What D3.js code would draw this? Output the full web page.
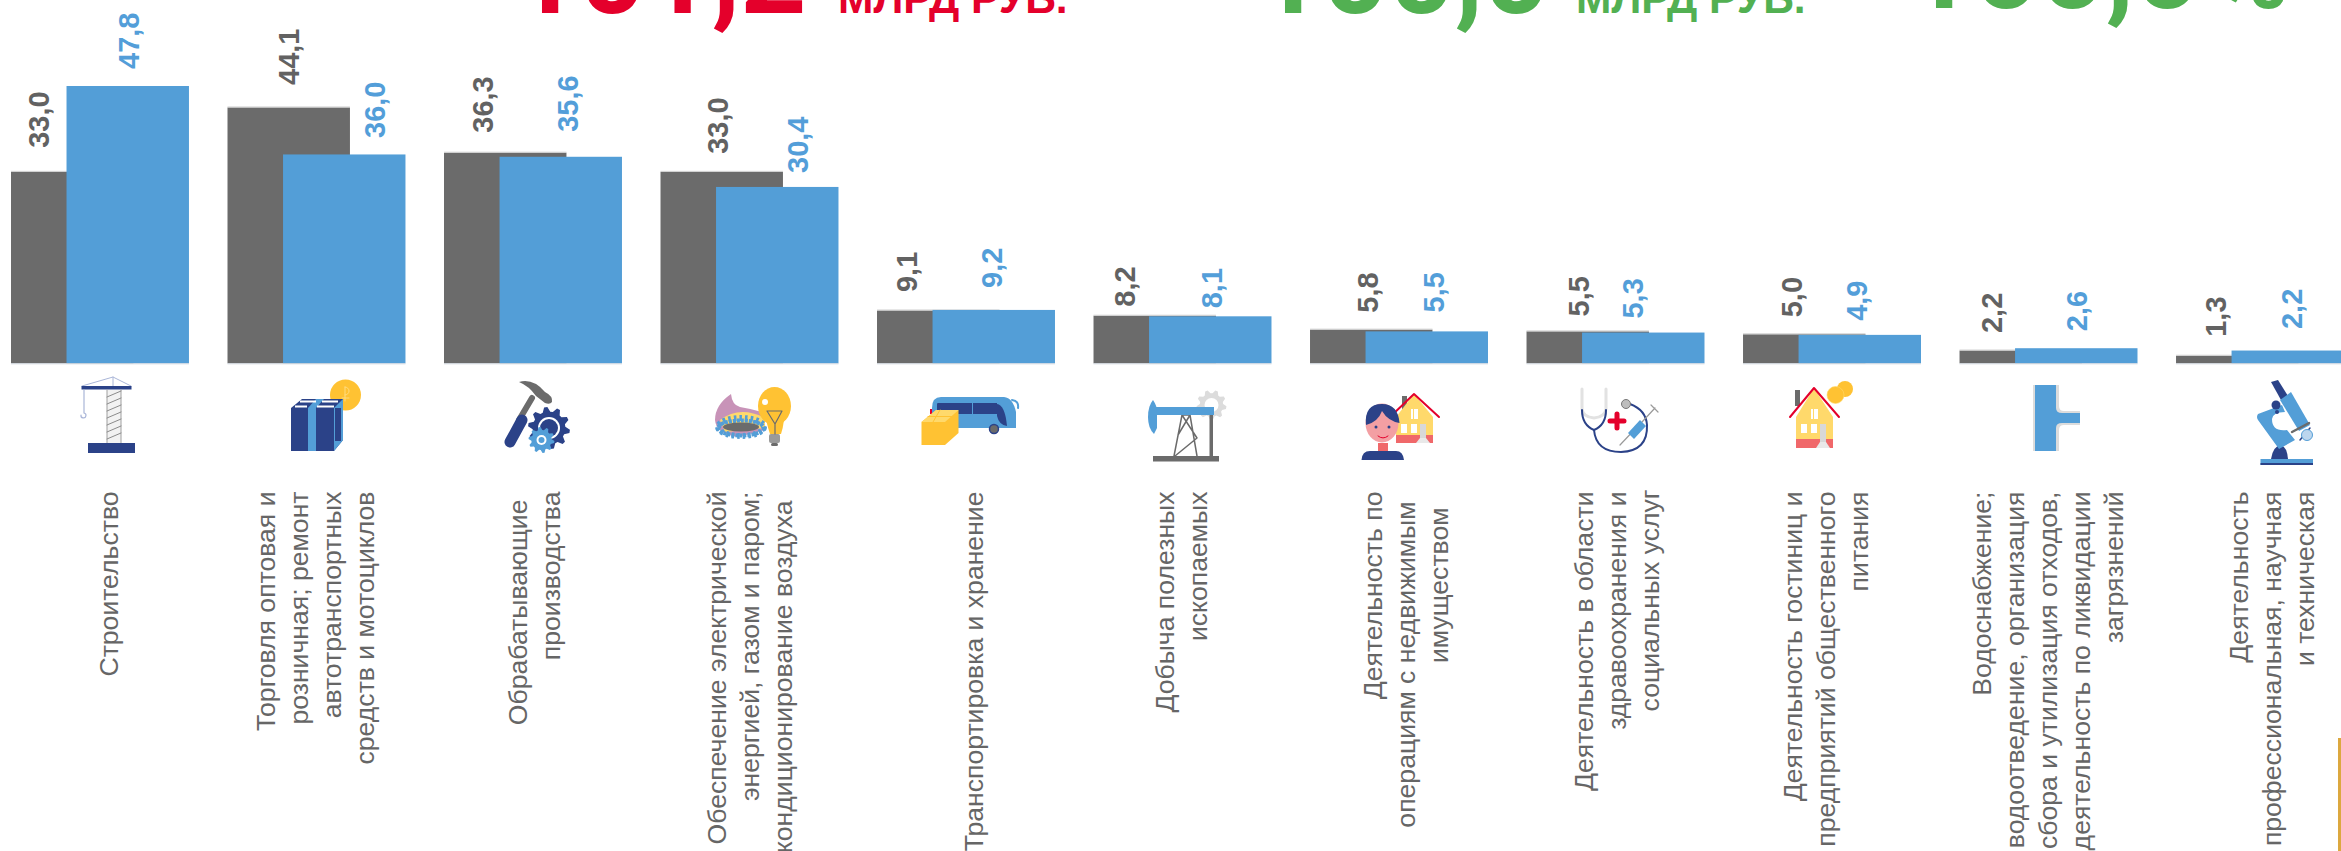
<!DOCTYPE html>
<html lang="ru"><head><meta charset="utf-8">
<style>html,body{margin:0;padding:0;background:#fff;overflow:hidden}svg{display:block;font-family:"Liberation Sans",Arial,sans-serif}</style>
<script src="https://cdnjs.cloudflare.com/ajax/libs/d3/7.8.5/d3.min.js"></script>
</head><body><svg id="c" width="2341" height="851"></svg>
<script>
// ---- data
const categories = [
 ["Строительство"],
 ["Торговля оптовая и","розничная; ремонт","автотранспортных","средств и мотоциклов"],
 ["Обрабатывающие","производства"],
 ["Обеспечение электрической","энергией, газом и паром;","кондиционирование воздуха"],
 ["Транспортировка и хранение"],
 ["Добыча полезных","ископаемых"],
 ["Деятельность по","операциям с недвижимым","имуществом"],
 ["Деятельность в области","здравоохранения и","социальных услуг"],
 ["Деятельность гостиниц и","предприятий общественного","питания"],
 ["Водоснабжение;","водоотведение, организация","сбора и утилизация отходов,","деятельность по ликвидации","загрязнений"],
 ["Деятельность","профессиональная, научная","и техническая"]
];
const previousValues = [33.0,44.1,36.3,33.0,9.1,8.2,5.8,5.5,5.0,2.2,1.3];
const currentValues  = [47.8,36.0,35.6,30.4,9.2,8.1,5.5,5.3,4.9,2.6,2.2];
const headlineRed = ["101,2","МЛРД РУБ."];
const headlineGreen = ["100,0","МЛРД РУБ."];
const headlinePercent = ["100,0","%"];

// ---- layout of hand-placed labels (separate from the values)
const prevLabelX   = [28,61.5,39,57.5,30,31.5,58,52.5,49,32.5,40];
const currLabelX   = [118,147.5,124,137.5,115,118.5,124,106.5,114,117.5,116];
const prevLabelGap = [24,22.5,20,18,18.5,9,17,15,17,17.5,19];
const currLabelGap = [17,16.5,25,14,22,8,19,14,14,17,21.5];
const catCenterX   = [97,87.5,90,88.5,96,87,95,89.5,82,88,95];
const catLineShift = [[0],[0,0,0,0],[8,0],[0,0,9],[0],[0,0],[0,10,16],[0,0,-2],[0,0,0],[0,0,0,0,0],[0,0,0]];

const C = {grey:"#6b6b6b", blue:"#539ed7", navy:"#2b4288", yellow:"#ffc233", lyellow:"#ffd96b",
           text:"#666666", greyLabel:"#626262", blueLabel:"#539ed9", red:"#e4002b", green:"#52b052", lgrey:"#dcdcdc", salmon:"#f0686a"};

const svg = d3.select("#c");
const idx = d3.range(categories.length);
const x = d3.scaleBand().domain(idx).range([11, 2354]).paddingInner(0.178).paddingOuter(0);
const y = d3.scaleLinear().domain([0, 47.8]).range([363.3, 86]);
const barW = x.bandwidth() * 0.688;
const seriesOffset = d3.scaleLinear().domain([0,1]).range([0, x.bandwidth() - barW]);
const fmt = v => d3.format(".1f")(v).replace(".", ",");

// ---- headline (cropped by the top edge)
function head(xx, yy, txt, fs, col, fam){
  svg.append("text").attr("x",xx).attr("y",yy).attr("font-size",fs).attr("font-weight",700)
   .attr("font-family",fam||null).attr("fill",col).text(txt);
}
const bigFont = "Roboto";
head(513,13,headlineRed[0],115.5,C.red,bigFont);
head(838,13,headlineRed[1],42.5,C.red);
head(1256,13,headlineGreen[0],115.5,C.green,bigFont);
head(1576,13,headlineGreen[1],42.5,C.green);
head(1907,8,headlinePercent[0],115.5,C.green,bigFont);
head(2212,8,headlinePercent[1],104,C.green,bigFont);

// ---- bars
const bars = svg.append("g");
bars.selectAll(null).data(previousValues).join("rect")
  .attr("x",(d,i)=>x(i)+seriesOffset(0)).attr("width",barW)
  .attr("y",d=>y(d)).attr("height",d=>y(0)-y(d)).attr("fill",C.grey);
// faint edge above the grey bars
bars.selectAll(null).data(previousValues).join("rect")
  .attr("x",(d,i)=>x(i)).attr("width",barW).attr("y",d=>y(d)-1).attr("height",1).attr("fill","#cfcfcf");
bars.selectAll(null).data(currentValues).join("rect")
  .attr("x",(d,i)=>x(i)+seriesOffset(1)).attr("width",barW)
  .attr("y",d=>y(d)).attr("height",d=>y(0)-y(d)).attr("fill",C.blue);
bars.selectAll(null).data(idx).join("rect")
  .attr("x",i=>x(i)).attr("width",x.bandwidth()).attr("y",y(0)).attr("height",1).attr("fill","#cfd6de");

// ---- value labels
function valueLabels(vals, dx, gap, col){
  svg.append("g").selectAll("text").data(vals).join("text")
    .attr("transform",(d,i)=>`translate(${x(i)+dx[i]},${y(d)-gap[i]}) rotate(-90)`)
    .attr("dy","0.36em").attr("font-size",29).attr("font-weight",700).attr("fill",col)
    .text(fmt);
}
valueLabels(previousValues,prevLabelX,prevLabelGap,C.greyLabel);
valueLabels(currentValues,currLabelX,currLabelGap,C.blueLabel);

// ---- category labels
const lineStep = 33, catTop = 491.5;
const cat = svg.append("g").selectAll("g").data(categories).join("g")
  .attr("transform",(d,i)=>`translate(${x(i)+catCenterX[i]},${catTop})`);
cat.each(function(lines,i){
  d3.select(this).selectAll("text").data(lines).join("text")
    .attr("transform",(d,j)=>`translate(${(j-(lines.length-1)/2)*lineStep},${catLineShift[i][j]}) rotate(-90)`)
    .attr("text-anchor","end").attr("dy","0.36em").attr("font-size",26.6).attr("fill",C.text).text(d=>d);
});

// ---- corner rule
svg.append("rect").attr("x",2338).attr("y",738).attr("width",3).attr("height",113).attr("fill","#dca83f");

// ---- pictograms
const ic = svg.append("g");
const R=(x0,y0,w,h,f,r)=>ic.append("rect").attr("x",x0).attr("y",y0).attr("width",w).attr("height",h).attr("fill",f).attr("rx",r||0);
const P=(d,f,s,sw)=>ic.append("path").attr("d",d).attr("fill",f||"none").attr("stroke",s||"none").attr("stroke-width",sw||0).attr("stroke-linecap","round").attr("stroke-linejoin","round");
const E=(cx,cy,rx,ry,f,s,sw)=>ic.append("ellipse").attr("cx",cx).attr("cy",cy).attr("rx",rx).attr("ry",ry).attr("fill",f).attr("stroke",s||"none").attr("stroke-width",sw||0);
function gear(cx,cy,r,teeth,f){
  const pts=[];const n=teeth*4;
  for(let k=0;k<n;k++){const a=(k+0.5)/n*2*Math.PI;const o=(k%4<2)?r:r*0.78;pts.push([cx+o*Math.cos(a),cy+o*Math.sin(a)]);}
  ic.append("path").attr("d",d3.line()(pts)+"Z").attr("fill",f);
}
// crane
P("M82 386L113 377L131 386M113 377V386","none","#aab6d8",1);
R(81.5,386,50,3.5,C.navy);
R(107,390,14,54,"#f2f2f2");
P("M107 390V444M121 390V444","none","#a0a0a0",1);
P("M107 397L121 391M107 404L121 398M107 411L121 405M107 418L121 412M107 425L121 419M107 432L121 426M107 439L121 433","none","#8c8c8c",1);
R(88,443,47,10,C.navy);
P("M84 390V413a2.5 2.5 0 1 1 -3 2","none","#aab6d8",1.2);
// parcel
E(345.5,395,15.5,15.5,C.yellow);
P("M345 387v14M345 387a4 4 0 0 1 0 8M342 398h7","none","#ffdc80",1);
P("M291 408L302 399H338L343 399V440L334 451H291Z",C.navy);
R(308,408,8,43,C.blue);
P("M302 399L297 408M316 399L308 408H316L324 399Z",C.blue);
P("M334 408L343 399V440L334 451Z",C.blue);
R(335,408,6,33,C.navy);
R(300,400.5,16,2,"#fff");R(322,400.5,16,2,"#fff");R(295,405.5,12,2,"#fff");R(317,405.5,17,2,"#fff");
// hammer + gears
P("M532 398L519 420","none",C.grey,6);
P("M510 442L522 420","none",C.navy,11);
P("M519 382Q533 378 545 392Q553 396 552 402Q550 405 545 403L536 396Q529 386 519 382Z",C.grey);
gear(549,428,21,10,C.navy);
E(549,428,11,11,"#fff");E(549,428,9,9,C.navy);
gear(541.5,440,13,10,C.blue);
E(541.5,440,5,5,"#fff");E(541.5,440,3,3,C.blue);
// gas + bulb
P("M715 420Q715 405 731 394Q732 405 740 407Q752 409 762 412L765 430L738 437Q716 434 715 420Z","#c893b8");
P("M720 420Q740 405 765 418L765 428L725 432Z",C.lyellow);
E(741,428,23,7.5,"none",C.blue,4).attr("stroke-dasharray","3 1");
E(741,427,23,9,"none",C.blue,6).attr("stroke-dasharray","2.5 3");
E(741,427,18,4.5,C.grey);
E(774.5,406,16.5,19,C.yellow);
P("M766 420Q768 428 770 434H781Q783 428 784 420Z",C.yellow);
R(769,434,11,9,"#9a9a9a",2);R(771,443,7,3,C.grey,1.5);
P("M767 411H782L775 424ZM775 424V434","none",C.grey,1.2);
E(765,402,3,3,"#fff");
// bus + box
P("M932 408Q932 397 941 397H1004Q1013 398 1016 412V428H932Z",C.blue);
R(937,403,27,11,C.navy,1);R(962,403,10,11,C.navy);R(973,403,24,11,C.navy);
P("M997 404Q1005 405 1007 426Q999 425 997 416Z",C.navy);
P("M1012 400Q1019 401 1018 408","none",C.blue,2);
E(994,429,4.5,4.5,C.grey,C.navy,1.5);
R(930,409,2,5,C.red);
P("M921.5 422L936 410H958.5V433L945 445H921.5Z",C.yellow);
P("M921.5 422L936 410H958.5L945 422Z",C.lyellow);
P("M928 416.5H952M940 410L933 422","none",C.yellow,1);
// oil pump
gear(1211.5,405,15,9,C.lgrey);
E(1211.5,405,7,7,"#fff");
P("M1174 456L1182 415L1190 415L1197 456M1182 415L1197 438L1175 456M1190 415L1178 435","none",C.grey,1.5);
R(1152,407,62,8,C.blue);
P("M1148 417Q1148 406 1153 400Q1157 406 1157 411V428L1154 434Q1148 428 1148 417Z",C.blue);
R(1209.5,415,3.5,42,C.grey);
R(1153,456,66,5.5,C.grey);
// person + house
function house(cx,apex,eave,base,strip,chim){
  R(chim,apex+2,5,16,C.grey);
  P(`M${cx-18} ${eave}L${cx} ${apex}L${cx+19} ${eave}V${base}H${cx-18}Z`,C.lyellow);
  R(cx-18,strip,37,base-strip,C.salmon);
  P(`M${cx-24} ${eave}L${cx} ${apex}L${cx+25} ${eave}`,"none",C.red,2);
  R(cx-3,eave-8,7,10,"#fff");R(cx-1,eave-8,1,10,C.lyellow);
  R(cx-13,eave+7,6,9,"#fff");R(cx-3,eave+7,6,9,"#fff");
  R(cx+6,eave+7,6,strip-eave,"#d8d8d8");
  P(`M${cx+2} ${base}L${cx+6} ${strip+3}H${cx+12}L${cx+16} ${base}Z`,"#e9e9e9");
}
house(1414,394,417,443,435,1402);
E(1382,423,16.5,19.5,"#f39fa3");
P("M1366 425Q1364 404 1382 404Q1398 404 1399.5 423Q1388 421 1382 411Q1378 422 1366 425Z",C.navy);
E(1376,427,1.5,1.5,C.navy);E(1389,427,1.5,1.5,C.navy);
P("M1378 436Q1383 440 1388 436","none",C.red,1);
R(1378,443,10,8,C.salmon);
P("M1361.5 460Q1362 451 1370 451H1396Q1403 451 1404 460Z",C.navy);
// stethoscope
P("M1582 389V409Q1583 417 1594 418Q1605 417 1606 409V389","none","#e2e2e2",3);
P("M1582 410Q1582 425 1594 430Q1606 425 1606 410","none",C.navy,2);
P("M1594 430Q1596 452 1621 452Q1648 451 1647 425Q1646 410 1630 404","none",C.navy,2);
E(1626,404,4.5,4.5,"#bdbdbd","#777",1);
P("M1610 421H1624M1617 414V428","none",C.red,5);
P("M1620 445L1637 427M1642 422L1655 408M1651 405L1658 412","none","#9a9a9a",1.2);
P("M1628 433L1640 420L1646 426L1634 439Z",C.blue);
// house + coins
house(1814,388,417,448,439,1795);
E(1845,389,8,8,C.yellow);E(1835.5,395,8.5,8.5,C.yellow,"#ffd96b",.6);
// pipe
P("M2033 385H2059V406Q2059 411 2064 411H2080V425H2064Q2059 425 2059 430V451H2033Z",C.lgrey);
P("M2035 385H2056V408Q2056 413 2062 413H2080V423H2062Q2056 423 2056 428V451H2035Z",C.blue);
// microscope
R(2260.5,459,52.5,6,C.blue);R(2260.5,463,52.5,2,C.navy);
P("M2271 459Q2273 446 2281 445Q2287 447 2288 459Z",C.navy);
P("M2271 382L2278 380L2288 396L2281 400Z",C.navy);
P("M2280 400L2291 392L2310 425L2299 431Z",C.blue);
P("M2282 405L2258 414Q2256 417 2258 420L2279 449L2295 440L2287 430Q2272 432 2272 419Q2273 412 2285 412Z",C.blue);
E(2276,405,4.5,4.5,C.navy);E(2277,412,2,2,C.navy);
P("M2292 432L2309 423","none",C.grey,2.5);
P("M2300 440L2310 428","none",C.navy,1.5);
E(2307,435,5.5,5.5,"#bcd6ee",C.blue,1);
</script></body></html>
